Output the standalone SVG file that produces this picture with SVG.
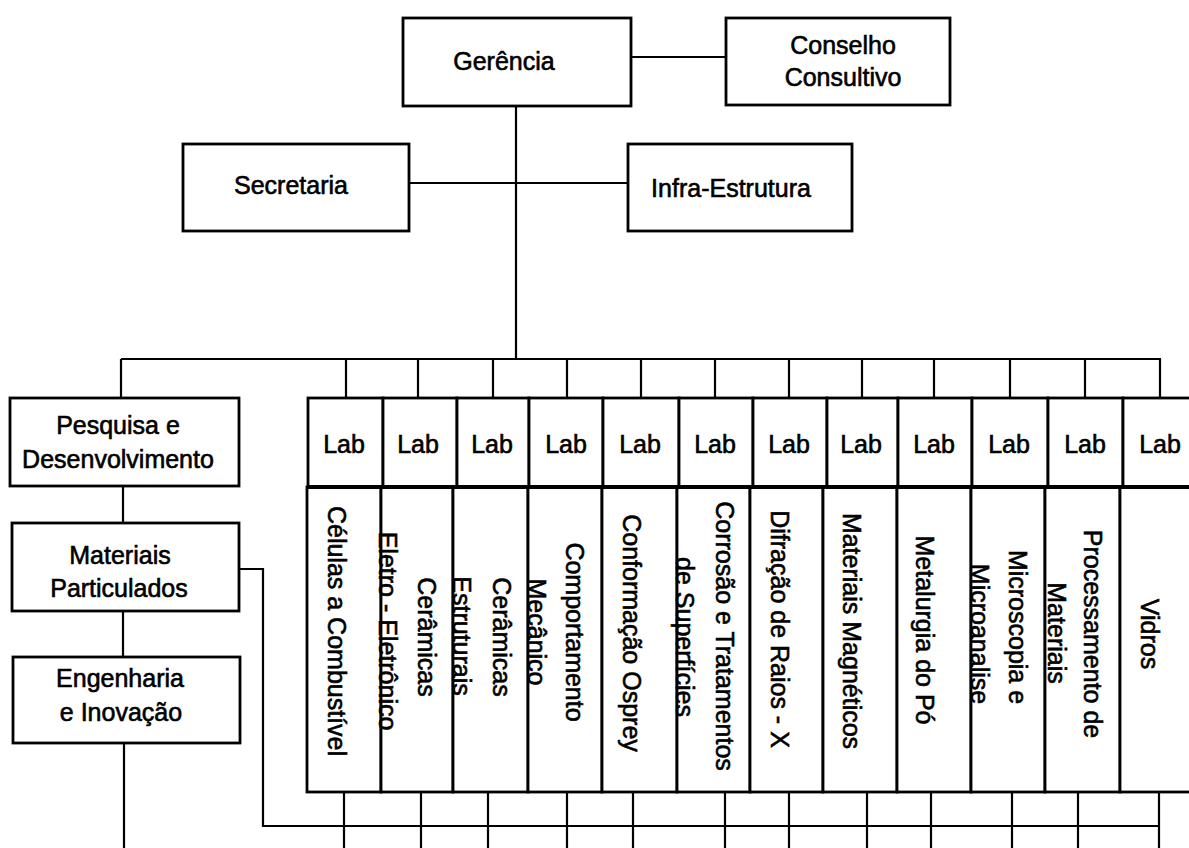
<svg xmlns="http://www.w3.org/2000/svg" width="1189" height="848" viewBox="0 0 1189 848">
  <style>
    .box { fill: #fff; stroke: #000; stroke-width: 2.8; }
    .ln { fill: none; stroke: #000; stroke-width: 2.2; }
    .t { font-family: "Liberation Sans", Arial, sans-serif; font-size: 25px; fill: #000; stroke: #000; stroke-width: 0.6; text-anchor: middle; dominant-baseline: central; }
  </style>
  <rect width="1189" height="848" fill="#fff"/>

  <!-- connectors -->
  <g id="connectors" class="ln">
    <path d="M631 57 H726"/>
    <path d="M516 106 V359"/>
    <path d="M409 183 H628"/>
    <path d="M121 359 H1161 M121 359 V398"/>
    <path d="M346 359 V405 M418 359 V405 M493 359 V405 M567 359 V405 M641 359 V405 M715 359 V405 M789 359 V405 M862 359 V405 M934 359 V405 M1010 359 V405 M1085 359 V405 M1160 359 V405"/>
    <path d="M123 486 V523 M123 611 V657 M124 743 V848"/>
    <path d="M239 569 H263 V826 H1159"/>
    <path d="M344 785 V848 M421 785 V848 M488 785 V848 M567 785 V848 M633 785 V848 M725 785 V848 M789 785 V848 M867 785 V848 M931 785 V848 M1012 785 V848 M1078 785 V848 M1159 792 V848"/>
  </g>

  <g id="gerencia">
    <rect class="box" x="403" y="18" width="228" height="88"/>
    <text class="t" x="504" y="61">Gerência</text>
  </g>
  <g id="conselho">
    <rect class="box" x="726" y="18" width="224" height="87"/>
    <text class="t" x="843" y="45">Conselho</text>
    <text class="t" x="843" y="77">Consultivo</text>
  </g>
  <g id="secretaria">
    <rect class="box" x="183" y="144" width="226" height="87"/>
    <text class="t" x="291" y="185">Secretaria</text>
  </g>
  <g id="infra">
    <rect class="box" x="628" y="144" width="224" height="87"/>
    <text class="t" x="731" y="188">Infra-Estrutura</text>
  </g>

  <g id="pesquisa">
    <rect class="box" x="10" y="398" width="229" height="88"/>
    <text class="t" x="118" y="425">Pesquisa e</text>
    <text class="t" x="118" y="459">Desenvolvimento</text>
  </g>
  <g id="materiais">
    <rect class="box" x="12" y="523" width="227" height="88"/>
    <text class="t" x="120" y="555">Materiais</text>
    <text class="t" x="119" y="588">Particulados</text>
  </g>
  <g id="engenharia">
    <rect class="box" x="13" y="657" width="227" height="86"/>
    <text class="t" x="120" y="678">Engenharia</text>
    <text class="t" x="121" y="712">e Inovação</text>
  </g>

  <!-- laboratories: header cell, tall column, rotated name -->
  <g id="lab-celulas">
    <rect class="box" x="308" y="398" width="75" height="89"/>
    <text class="t" x="344" y="444">Lab</text>
    <rect class="box" x="307" y="487" width="74" height="305"/>
    <text class="t" transform="translate(337 631) rotate(90)">Células a Combustível</text>
  </g>
  <g id="lab-ceramicas-eletro">
    <rect class="box" x="383" y="398" width="74" height="89"/>
    <text class="t" x="418" y="444">Lab</text>
    <rect class="box" x="381" y="487" width="72" height="305"/>
    <text class="t" transform="translate(427 637) rotate(90)">Cerâmicas</text>
    <text class="t" transform="translate(388 631) rotate(90)">Eletro - Eletrônico</text>
  </g>
  <g id="lab-ceramicas-estruturais">
    <rect class="box" x="457" y="398" width="72" height="89"/>
    <text class="t" x="492" y="444">Lab</text>
    <rect class="box" x="453" y="487" width="75" height="305"/>
    <text class="t" transform="translate(502 637) rotate(90)">Cerâmicas</text>
    <text class="t" transform="translate(462 636) rotate(90)">Estruturais</text>
  </g>
  <g id="lab-comportamento">
    <rect class="box" x="529" y="398" width="74" height="89"/>
    <text class="t" x="566" y="444">Lab</text>
    <rect class="box" x="528" y="487" width="74" height="305"/>
    <text class="t" transform="translate(575 632) rotate(90)">Comportamento</text>
    <text class="t" transform="translate(537 632) rotate(90)">Mecânico</text>
  </g>
  <g id="lab-conformacao">
    <rect class="box" x="603" y="398" width="76" height="89"/>
    <text class="t" x="640" y="444">Lab</text>
    <rect class="box" x="602" y="487" width="75" height="305"/>
    <text class="t" transform="translate(632 633) rotate(90)">Conformação Osprey</text>
  </g>
  <g id="lab-corrosao">
    <rect class="box" x="679" y="398" width="74" height="89"/>
    <text class="t" x="715" y="444">Lab</text>
    <rect class="box" x="677" y="487" width="73" height="305"/>
    <text class="t" transform="translate(725 636) rotate(90)">Corrosão e Tratamentos</text>
    <text class="t" transform="translate(685 637) rotate(90)">de Superfícies</text>
  </g>
  <g id="lab-difracao">
    <rect class="box" x="753" y="398" width="74" height="89"/>
    <text class="t" x="789" y="444">Lab</text>
    <rect class="box" x="750" y="487" width="73" height="305"/>
    <text class="t" transform="translate(780 629) rotate(90)">Difração de Raios - X</text>
  </g>
  <g id="lab-magneticos">
    <rect class="box" x="827" y="398" width="71" height="89"/>
    <text class="t" x="861" y="444">Lab</text>
    <rect class="box" x="823" y="487" width="74" height="305"/>
    <text class="t" transform="translate(852 631) rotate(90)">Materiais Magnéticos</text>
  </g>
  <g id="lab-metalurgia">
    <rect class="box" x="898" y="398" width="74" height="89"/>
    <text class="t" x="934" y="444">Lab</text>
    <rect class="box" x="897" y="487" width="74" height="305"/>
    <text class="t" transform="translate(925 630) rotate(90)">Metalurgia do Pó</text>
  </g>
  <g id="lab-microscopia">
    <rect class="box" x="972" y="398" width="76" height="89"/>
    <text class="t" x="1009" y="444">Lab</text>
    <rect class="box" x="971" y="487" width="74" height="305"/>
    <text class="t" transform="translate(1018 627) rotate(90)">Microscopia e</text>
    <text class="t" transform="translate(980 634) rotate(90)">Microanalise</text>
  </g>
  <g id="lab-processamento">
    <rect class="box" x="1048" y="398" width="75" height="89"/>
    <text class="t" x="1085" y="444">Lab</text>
    <rect class="box" x="1045" y="487" width="75" height="305"/>
    <text class="t" transform="translate(1093 634) rotate(90)">Processamento de</text>
    <text class="t" transform="translate(1057 633) rotate(90)">Materiais</text>
  </g>
  <g id="lab-vidros">
    <rect class="box" x="1123" y="398" width="74" height="89"/>
    <text class="t" x="1160" y="444">Lab</text>
    <rect class="box" x="1120" y="487" width="80" height="305"/>
    <text class="t" transform="translate(1150 634) rotate(90)">Vidros</text>
  </g>

  <!-- heavy rule between the header row and the columns -->
  <path d="M307 487 H1189" stroke="#000" stroke-width="4" fill="none"/>
</svg>
